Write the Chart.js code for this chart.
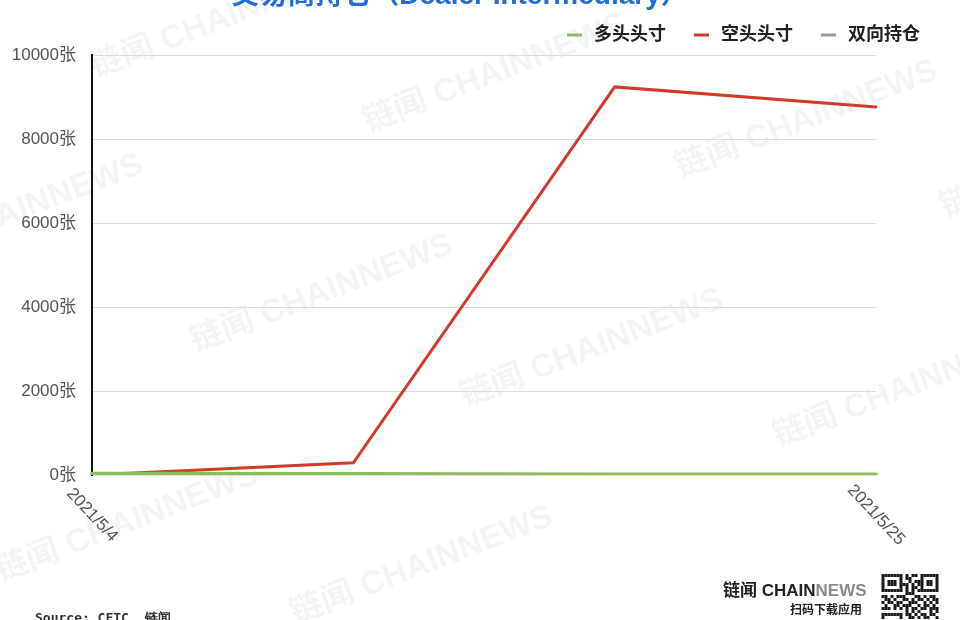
<!DOCTYPE html>
<html>
<head>
<meta charset="utf-8">
<script src="https://cdn.jsdelivr.net/npm/chart.js@4/dist/chart.umd.min.js"></script>
<style>
  html, body { margin: 0; padding: 0; background: #fff; }
  #wrap { width: 960px; height: 620px; position: relative; }
</style>
</head>
<body>
<div id="wrap"><canvas id="c" width="960" height="620"></canvas></div>
<script>
// Weekly report dates
const categories = ['2021/5/4', '2021/5/11', '2021/5/18', '2021/5/25'];
// Only the first and last dates are labelled on the axis
const tickLabels = ['2021/5/4', '', '', '2021/5/25'];
// Positions in contracts (张)
const longPositions = [30, 25, 10, 10];
const shortPositions = [0, 290, 9240, 8760];
const spreadPositions = [0, 0, 0, 0];
const seriesNames = ['多头头寸', '空头头寸', '双向持仓'];
const yTicks = [0, 2000, 4000, 6000, 8000, 10000];

const titleText = '交易商持仓（Dealer Intermediary）';
const FONT = '"Helvetica Neue", Helvetica, Arial, "Liberation Sans", "Noto Sans CJK SC", sans-serif';

// Faint diagonal brand marks across the page
const bgPlugin = {
  id: 'bgMarks',
  beforeDraw(chart) {
    const ctx = chart.ctx;
    ctx.save();
    ctx.fillStyle = '#fff';
    ctx.fillRect(0, 0, chart.width, chart.height);
    ctx.font = 'bold 33px ' + FONT;
    ctx.fillStyle = 'rgba(0,0,0,0.045)';
    ctx.textBaseline = 'alphabetic';
    const spots = [[95, 78], [368, 132], [680, 178], [-115, 272], [195, 352], [465, 407], [778, 447], [0, 582], [295, 624], [945, 218]];
    for (const [x, y] of spots) {
      ctx.save();
      ctx.translate(x, y);
      ctx.rotate(-21 * Math.PI / 180);
      ctx.fillText('链闻 CHAINNEWS', 0, 0);
      ctx.restore();
    }
    ctx.restore();
  }
};

// Title, legend, rotated date labels and footer
const decorPlugin = {
  id: 'decor',
  afterDraw(chart) {
    const ctx = chart.ctx;
    ctx.save();

    // title (partly above the page edge)
    ctx.font = 'bold 28px ' + FONT;
    ctx.fillStyle = '#1f6fd8';
    ctx.textAlign = 'center';
    ctx.textBaseline = 'alphabetic';
    ctx.fillText(titleText, 460, 4);

    // legend
    ctx.font = 'bold 18px ' + FONT;
    ctx.textAlign = 'left';
    ctx.textBaseline = 'middle';
    const legendX = [567, 694, 821];
    chart.data.datasets.forEach((ds, i) => {
      const x = legendX[i];
      ctx.strokeStyle = ds.borderColor;
      ctx.lineWidth = 3;
      ctx.beginPath();
      ctx.moveTo(x, 35);
      ctx.lineTo(x + 15, 35);
      ctx.stroke();
      ctx.fillStyle = '#222';
      ctx.fillText(ds.label, x + 27, 35);
    });

    // rotated date labels, centred under their ticks
    const xs = chart.scales.x;
    ctx.font = '17px ' + FONT;
    ctx.fillStyle = '#555';
    ctx.textAlign = 'center';
    ctx.textBaseline = 'middle';
    tickLabels.forEach((lab, i) => {
      if (!lab) return;
      const px = xs.getPixelForValue(i);
      ctx.save();
      ctx.translate(px, chart.chartArea.bottom + 40);
      ctx.rotate(47 * Math.PI / 180);
      ctx.fillText(lab, 0, 0);
      ctx.restore();
    });

    // source line
    ctx.font = 'bold 13px "DejaVu Sans Mono", monospace';
    ctx.fillStyle = '#333';
    ctx.textAlign = 'left';
    ctx.textBaseline = 'alphabetic';
    ctx.fillText('Source: CFTC, 链闻', 35, 622);

    // brand block
    ctx.font = 'bold 17px ' + FONT;
    ctx.textAlign = 'left';
    ctx.fillStyle = '#222';
    ctx.fillText('链闻 CHAIN', 723, 596);
    const w = ctx.measureText('链闻 CHAIN').width;
    ctx.fillStyle = '#8a8a8a';
    ctx.fillText('NEWS', 723 + w, 596);
    ctx.font = 'bold 12px ' + FONT;
    ctx.fillStyle = '#222';
    ctx.textAlign = 'right';
    ctx.fillText('扫码下载应用', 862, 614);

    // code block
    const qx = 881, qy = 574, m = 3;
    const rows = [
      '1111111010110111111',
      '1000001011000100001',
      '1011101001011101101',
      '1011101110101101101',
      '1000001010110100001',
      '1111111010101111111',
      '0000000011100000000',
      '1101011100011010110',
      '0110100110101101011',
      '1011011001110010101',
      '0100110111001011010',
      '1110101010110110111',
      '0000000010101000101',
      '1111111011010110110',
      '1000001001101011001'
    ];
    ctx.fillStyle = '#1a1a1a';
    rows.forEach((r, j) => {
      for (let k = 0; k < r.length; k++) {
        if (r[k] === '1') ctx.fillRect(qx + k * m + 0.5, qy + j * m, m, m);
      }
    });
    ctx.restore();
  }
};

new Chart(document.getElementById('c'), {
  type: 'line',
  data: {
    labels: categories,
    datasets: [
      { label: seriesNames[0], data: longPositions, borderColor: '#8fbc5c', backgroundColor: '#8fbc5c', borderWidth: 4 },
      { label: seriesNames[1], data: shortPositions, borderColor: '#d23a2c', backgroundColor: '#d23a2c', borderWidth: 3 },
      { label: seriesNames[2], data: spreadPositions, borderColor: '#9a9a9a', backgroundColor: '#9a9a9a', borderWidth: 3 }
    ]
  },
  options: {
    responsive: false,
    animation: false,
    devicePixelRatio: 1,
    layout: { padding: { top: 55, right: 84, bottom: 145, left: 0 } },
    elements: {
      point: { radius: 0, hoverRadius: 0 },
      line: { tension: 0, borderCapStyle: 'round', borderJoinStyle: 'miter' }
    },
    plugins: {
      legend: { display: false },
      title: { display: false },
      tooltip: { enabled: false }
    },
    scales: {
      x: {
        offset: false,
        afterFit(scale) { scale.height = 0; },
        ticks: { display: false },
        grid: { display: false },
        border: { display: false }
      },
      y: {
        min: 0,
        max: 10000,
        afterFit(scale) { scale.width = 92; },
        afterBuildTicks(scale) { scale.ticks = yTicks.map(v => ({ value: v })); },
        ticks: {
          padding: 16,
          color: '#555',
          font: { size: 17, family: FONT },
          callback: v => v + '张'
        },
        grid: { color: '#dcdcdc', lineWidth: 1, drawTicks: false },
        border: { display: true, color: '#111', width: 2 }
      }
    }
  },
  plugins: [bgPlugin, decorPlugin]
});
</script>
</body>
</html>
